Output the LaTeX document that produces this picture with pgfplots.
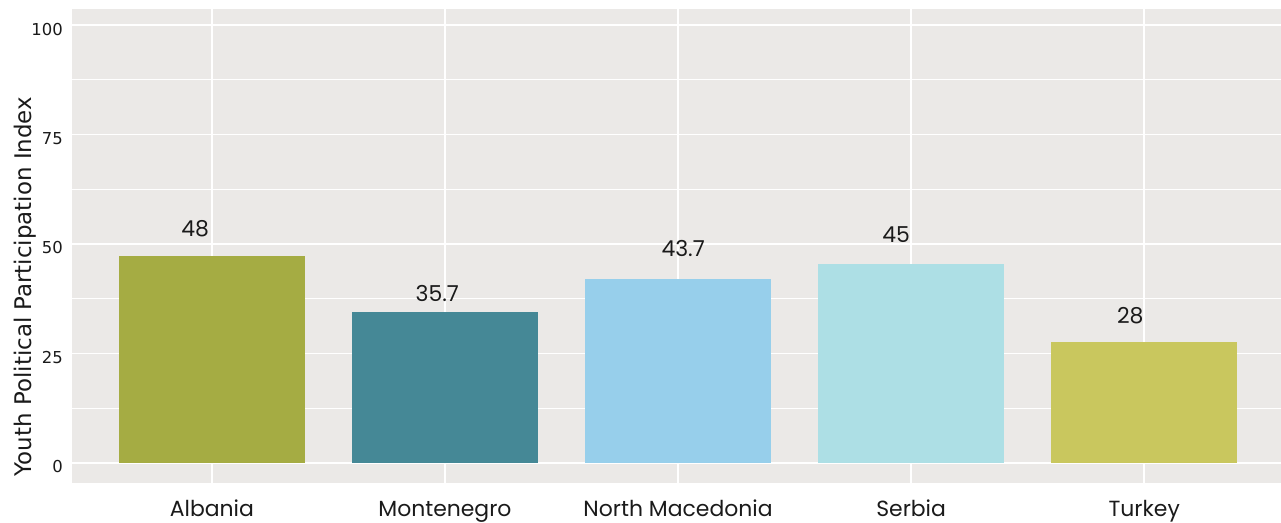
\documentclass[border=0pt]{standalone}
\usepackage{fontspec}
\setmainfont{Poppins}
\newfontfamily\dejavu{DejaVu Sans}
\usepackage{pgfplots}
\pgfplotsset{compat=1.18}
\definecolor{bg}{HTML}{EBE9E7}
\definecolor{cAL}{RGB}{165,172,67}
\definecolor{cME}{RGB}{69,136,150}
\definecolor{cMK}{RGB}{151,207,235}
\definecolor{cRS}{RGB}{173,223,229}
\definecolor{cTR}{RGB}{201,199,94}
\definecolor{txt}{HTML}{1A1A1A}
\begin{document}
\begin{tikzpicture}
\useasboundingbox (0,0) rectangle (1281bp,523bp);
\begin{axis}[
  at={(72bp,40bp)}, anchor=south west,
  width=1209bp, height=474bp, scale only axis,
  xmin=-0.6, xmax=4.587, ymin=-4.57, ymax=103.66,
  axis line style={draw=none},
  axis background/.style={fill=bg},
  xtick={0,1,2,3,4},
  xticklabels={Albania,Montenegro,North Macedonia,Serbia,Turkey},
  ytick={0,25,50,75,100},
  minor ytick={12.5,37.5,62.5,87.5},
  xmajorgrids, ymajorgrids, yminorgrids,
  major grid style={white, line width=1.6bp},
  minor grid style={white, line width=0.8bp},
  major tick length=0pt, minor tick length=0pt,
  tick style={draw=none},
  /pgf/number format/assume math mode=true,
  yticklabel style={font=\dejavu\fontsize{16.5}{16.5}\selectfont, text=txt, inner sep=0pt, xshift=-9bp, yshift=-4bp},
  xticklabel style={font=\fontsize{22}{22}\selectfont, text=txt, inner sep=0pt, anchor=base, yshift=-33bp},
  ylabel={Youth Political Participation Index},
  every axis y label/.style={at={(axis description cs:-0.0389,0.4146)}, rotate=90, anchor=center, inner sep=0pt, font=\dejavu\fontsize{23}{23}\selectfont, text=txt},
]
\addplot[ybar, bar width=0.8, bar shift=0pt, fill=cAL, draw=none] coordinates {(0,47.2)};
\addplot[ybar, bar width=0.8, bar shift=0pt, fill=cME, draw=none] coordinates {(1,34.4)};
\addplot[ybar, bar width=0.8, bar shift=0pt, fill=cMK, draw=none] coordinates {(2,42.0)};
\addplot[ybar, bar width=0.8, bar shift=0pt, fill=cRS, draw=none] coordinates {(3,45.4)};
\addplot[ybar, bar width=0.8, bar shift=0pt, fill=cTR, draw=none] coordinates {(4,27.6)};
\addplot[draw=none, mark=none, nodes near coords, point meta=explicit symbolic,
  every node near coord/.append style={anchor=center, inner sep=0pt, font=\fontsize{22}{22}\selectfont, text=txt}]
  table[meta=lab] {
x y lab
-0.072 53.5 48
0.967 38.8 35.7
2.022 49.0 43.7
2.936 52.1 45
3.940 33.7 28
};
\end{axis}
\end{tikzpicture}
\end{document}
